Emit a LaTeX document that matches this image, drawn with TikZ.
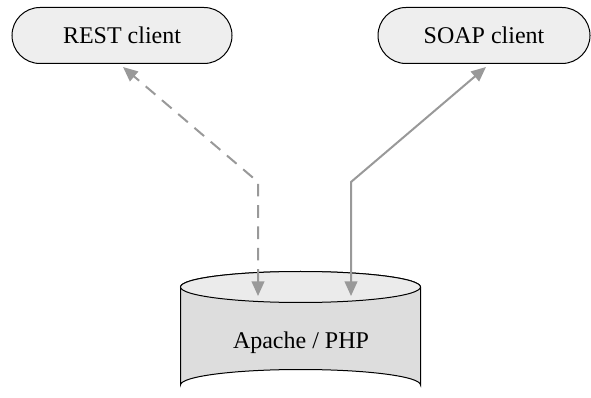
\documentclass[tikz,border=0pt]{standalone}
\usepackage{fontspec}
\setmainfont{Liberation Serif}
\usetikzlibrary{shapes.misc,arrows.meta}
\definecolor{boxfill}{HTML}{EEEEEE}
\definecolor{sidefill}{HTML}{DDDDDD}
\definecolor{topfill}{HTML}{EBEBEB}
\definecolor{conncol}{HTML}{999999}
\tikzset{
  client/.style={draw=black, line width=0.75pt, fill=boxfill, rounded rectangle,
    minimum height=42pt, inner sep=0pt, font=\fontsize{18}{20}\selectfont},
  conn/.style={draw=conncol, line width=1.5pt,
    {Triangle[length=11pt,width=9.5pt]}-{Triangle[length=11pt,width=9.5pt]}},
  dashconn/.style={conn, dash pattern=on 9.5pt off 6.5pt},
  lbl/.style={font=\fontsize{18}{20}\selectfont, inner sep=0pt}
}
\begin{document}
\begin{tikzpicture}[x=0.75pt,y=-0.75pt]
\useasboundingbox (0,0) rectangle (591,398);
% clients
\node[client, minimum width=165pt] (rest) at (122,35.5) {REST client};
\node[client, minimum width=159pt] (soap) at (484,35.5) {SOAP client};
% cylinder
\path[draw=black, line width=0.75pt, fill=sidefill]
  (180.5,287) -- (180.5,385) arc[start angle=180, end angle=360, x radius=120, y radius=15.5]
  -- (420.5,287) arc[start angle=0, end angle=-180, x radius=120, y radius=15.5] -- cycle;
\path[draw=black, line width=0.75pt, fill=topfill]
  (300.5,287) ellipse[x radius=120, y radius=15.5];
\node[lbl] (srv) at (301,343) {Apache / PHP};
% connector points
\coordinate (dend) at (258,296);
\coordinate (dbend) at (258,182);
\coordinate (send) at (351,296);
\coordinate (sbend) at (351,182);
\coordinate (restin) at (123,67);
\coordinate (soapin) at (486,67);
% connectors
\draw[dashconn] (dend) -- (dbend) -- (restin);
\draw[conn] (send) -- (sbend) -- (soapin);
\end{tikzpicture}
\end{document}
